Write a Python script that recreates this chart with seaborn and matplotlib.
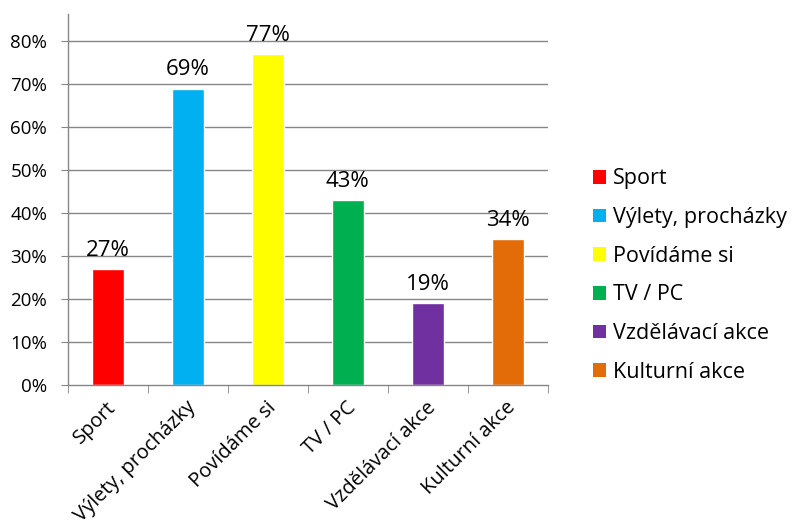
import numpy as np
import pandas as pd
import matplotlib
matplotlib.use("Agg")
import matplotlib.pyplot as plt
import matplotlib.transforms as mtransforms
import seaborn as sns
from matplotlib.ticker import PercentFormatter, FixedLocator
from matplotlib.patches import Patch

categories = ["Sport", "Výlety, procházky", "Povídáme si", "TV / PC", "Vzdělávací akce", "Kulturní akce"]
values = [0.27, 0.69, 0.77, 0.43, 0.19, 0.34]
colors = ["#FF0000", "#00B0F0", "#FFFF00", "#00B050", "#7030A0", "#E36C09"]
y_ticks = [0.0, 0.1, 0.2, 0.3, 0.4, 0.5, 0.6, 0.7, 0.8]

df = pd.DataFrame({"kategorie": categories, "podil": values})

sns.set_style("white")
plt.rcParams["font.family"] = ["Open Sans", "DejaVu Sans"]
plt.rcParams["text.color"] = "black"
plt.rcParams["xtick.color"] = "black"
plt.rcParams["ytick.color"] = "black"

fig = plt.figure(figsize=(7.94, 5.26), dpi=100)
ax = fig.add_axes([0.0856, 0.268, 0.604, 0.705])

sns.barplot(data=df, x="kategorie", y="podil", hue="kategorie", palette=colors,
            width=0.4, dodge=False, legend=False, ax=ax, saturation=1)

# gridlines only up to 80 %
for t in y_ticks[1:]:
    ax.axhline(t, color="#868686", lw=1, zorder=0)

ax.set_ylim(0, 0.863)
ax.set_xlim(-0.5, len(categories) - 0.5)
ax.yaxis.set_major_locator(FixedLocator(y_ticks))
ax.yaxis.set_major_formatter(PercentFormatter(1.0, decimals=0))
ax.tick_params(axis="y", length=5, color="#868686", labelcolor="black",
               labelsize=13.5, pad=10, left=True)

ax.set_xticks(range(len(categories)))
ax.set_xticks(np.arange(-0.5, len(categories)), minor=True)
ax.tick_params(axis="x", which="major", length=0, pad=9, labelcolor="black")
ax.tick_params(axis="x", which="minor", length=6, color="#868686", bottom=True)
ax.set_xticklabels(categories, rotation=45, ha="right", va="top",
                   rotation_mode="anchor", fontsize=14.5)
shift = mtransforms.ScaledTranslation(-0.02, 0, fig.dpi_scale_trans)
for lbl in ax.get_xticklabels():
    lbl.set_transform(lbl.get_transform() + shift)

for side in ["top", "right"]:
    ax.spines[side].set_visible(False)
for side in ["left", "bottom"]:
    ax.spines[side].set_color("#868686")
    ax.spines[side].set_linewidth(1)

ax.set_xlabel("")
ax.set_ylabel("")

for cont in ax.containers:
    ax.bar_label(cont, labels=[f"{v * 100:.0f}%" for v in cont.datavalues],
                 padding=6, fontsize=16, color="black")

handles = [Patch(facecolor=c, edgecolor="none") for c in colors]
fig.legend(handles, categories, loc="center left", bbox_to_anchor=(0.722, 0.476),
           frameon=False, fontsize=15.5, handlelength=0.6, handleheight=0.6,
           handletextpad=0.35, labelspacing=0.82)

fig.savefig("out.png", dpi=100)
